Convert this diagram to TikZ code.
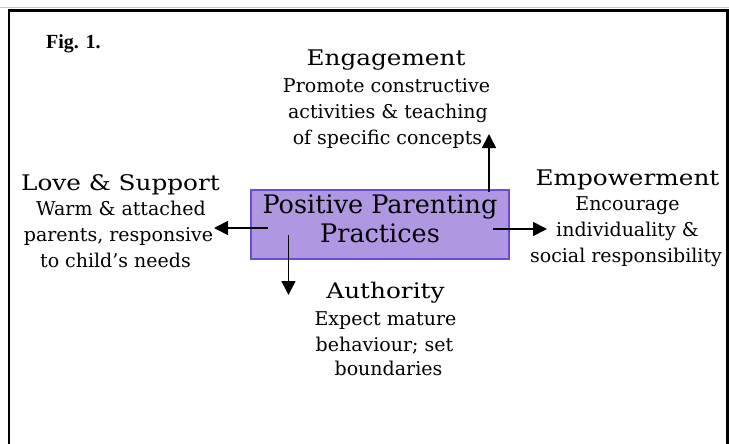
\documentclass[tikz,border=0pt]{standalone}
\usepackage{fontspec}
\setmainfont{DejaVu Serif}
\newfontfamily\titlefont[FakeStretch=1.15]{DejaVu Serif}
\newfontfamily\figfont{Liberation Serif}
\usetikzlibrary{arrows.meta}
\definecolor{boxfill}{RGB}{175,151,226}
\definecolor{boxborder}{RGB}{108,76,208}
\definecolor{topgray}{RGB}{200,200,200}
\tikzset{
  titletext/.style={anchor=base, inner sep=0pt, font=\titlefont\fontsize{21.5}{25}\selectfont},
  bodytext/.style={anchor=base, inner sep=0pt, font=\fontsize{19}{23}\selectfont},
  boxtext/.style={anchor=base, inner sep=0pt, font=\fontsize{25.5}{30}\selectfont},
  figlabel/.style={anchor=base west, inner sep=0pt, font=\figfont\bfseries\fontsize{20}{24}\selectfont},
  mainbox/.style={draw=boxborder, fill=boxfill, line width=2pt, minimum width=258pt, minimum height=69pt, inner sep=0pt},
  arr/.style={line width=1.6pt, -{Triangle[length=14pt,width=14pt]}},
  frame/.style={line width=2.7pt},
}
\begin{document}
\begin{tikzpicture}[x=1pt,y=-1pt]
\useasboundingbox (0,0) rectangle (729,444);
% frame
\draw[topgray, line width=1pt] (0,7.5) -- (729,7.5);
\draw[frame] (9,446) -- (9,10.7) -- (727.5,10.7) -- (727.5,446);
\node[figlabel] (fig) at (46,49) {Fig. 1.};
% central box
\node[mainbox] (box) at (380,224.5) {};
\node[boxtext] (pp1) at (380,213) {Positive Parenting};
\node[boxtext] (pp2) at (380,242) {Practices};
% engagement
\node[titletext] (eng) at (386,66) {Engagement};
\node[bodytext] (eng1) at (386.5,93) {Promote constructive};
\node[bodytext] (eng2) at (388,118.5) {activities \& teaching};
\node[bodytext] (eng3) at (387.5,144) {of specific concepts};
% love & support
\node[titletext] (love) at (120.5,190) {Love \& Support};
\node[bodytext] (love1) at (121,215) {Warm \& attached};
\node[bodytext] (love2) at (118.5,241) {parents, responsive};
\node[bodytext] (love3) at (115.5,267) {to child’s needs};
% empowerment
\node[titletext] (emp) at (627.5,185) {Empowerment};
\node[bodytext] (emp1) at (627.5,210) {Encourage};
\node[bodytext] (emp2) at (627.5,236) {individuality \&};
\node[bodytext] (emp3) at (626,262) {social responsibility};
% authority
\node[titletext] (auth) at (385.5,298) {Authority};
\node[bodytext] (auth1) at (385.5,325) {Expect mature};
\node[bodytext] (auth2) at (384.5,351) {behaviour; set};
\node[bodytext] (auth3) at (388.5,375) {boundaries};
% arrows
\coordinate (upS) at (489,192);
\coordinate (upE) at (489,134);
\coordinate (leftS) at (268,228);
\coordinate (leftE) at (214,228);
\coordinate (rightS) at (493,229);
\coordinate (rightE) at (547,229);
\coordinate (downS) at (288.5,235);
\coordinate (downE) at (288.5,295);
\draw[arr] (upS) -- (upE);
\draw[arr] (leftS) -- (leftE);
\draw[arr] (rightS) -- (rightE);
\draw[arr] (downS) -- (downE);
\end{tikzpicture}
\end{document}
